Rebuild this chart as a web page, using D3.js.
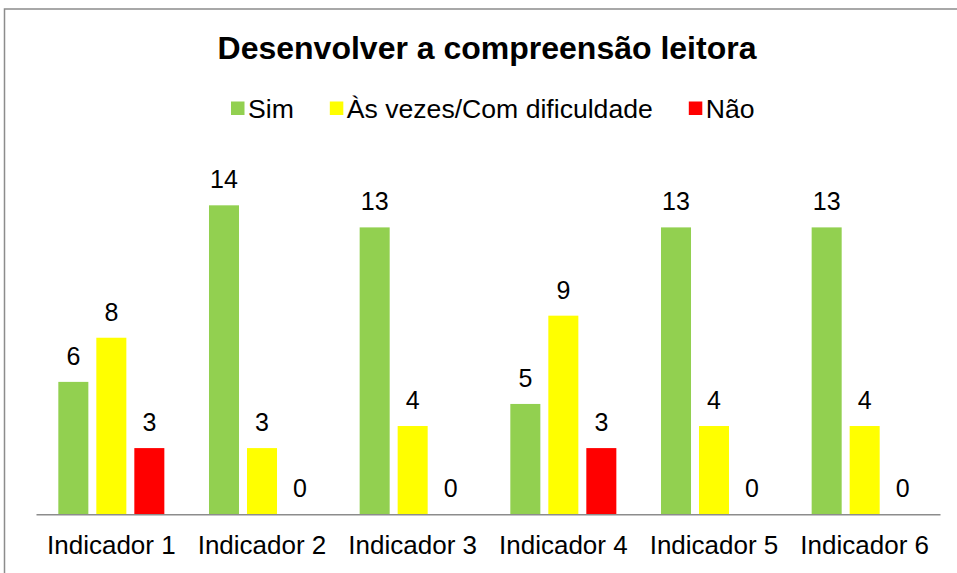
<!DOCTYPE html>
<html>
<head>
<meta charset="utf-8">
<script src="https://cdn.jsdelivr.net/npm/d3@7"></script>
<style>
body { margin: 0; background: #fff; }
svg { display: block; font-family: "Liberation Sans", Arial, sans-serif; }
.title { font-weight: bold; font-size: 32px; }
.legend-tag { font-size: 26.6px; }
.value-tag { font-size: 25px; }
.axis-x text { font-size: 26px; fill: #000; font-family: "Liberation Sans", Arial, sans-serif; }
.axis-x path { stroke: #8c8c8c; stroke-width: 1.5; }
.chart-border { fill: none; stroke: #8c8c8c; stroke-width: 1.5; }
</style>
</head>
<body>
<div id="chart"></div>
<script>
// data
let categories = ["Indicador 1", "Indicador 2", "Indicador 3", "Indicador 4", "Indicador 5", "Indicador 6"];
let series = ["Sim", "Às vezes/Com dificuldade", "Não"];
let colors = ["#92D050", "#FFFF00", "#FF0000"];
let sim = [6, 14, 13, 5, 13, 13];
let asVezes = [8, 3, 4, 9, 4, 4];
let nao = [3, 0, 0, 3, 0, 0];
let title = "Desenvolver a compreensão leitora";

function renderChart(){
	let total_width = 957;
	let total_height = 573;
	let plot_left = 36, plot_right = 940;
	let base_y = 514.3;
	let y_max = 16;

	let values = [sim, asVezes, nao];
	let rows = categories.map((c, i) => ({
		cat: c,
		vals: series.map((s, j) => ({ serie: s, color: colors[j], value: values[j][i] }))
	}));

	let svg = d3.select("#chart").append("svg")
		.attr("width", total_width)
		.attr("height", total_height);

	// chart area border (runs off right and bottom edges)
	svg.append("rect")
		.attr("class", "chart-border")
		.attr("x", 4.5)
		.attr("y", 9)
		.attr("width", 980)
		.attr("height", 600);

	svg.append("text")
		.attr("class", "title")
		.attr("x", 487)
		.attr("y", 59)
		.attr("text-anchor", "middle")
		.text(title);

	let x0 = d3.scaleBand()
		.domain(categories)
		.range([plot_left, plot_right]);
	let x1 = d3.scaleBand()
		.domain(series)
		.range([0, x0.bandwidth()])
		.paddingInner(0.21)
		.paddingOuter(0.5875);
	let y = d3.scaleLinear()
		.domain([0, y_max])
		.range([base_y, base_y - y_max * 22.07]);

	let groups = svg.append("g").selectAll("g")
		.data(rows).enter().append("g")
		.attr("transform", d => "translate(" + x0(d.cat) + ",0)");

	groups.selectAll("rect").data(d => d.vals).enter().append("rect")
		.attr("x", d => x1(d.serie))
		.attr("width", x1.bandwidth())
		.attr("y", d => y(d.value))
		.attr("height", d => y(0) - y(d.value))
		.attr("fill", d => d.color);

	groups.selectAll("text").data(d => d.vals).enter().append("text")
		.attr("class", "value-tag")
		.attr("x", d => x1(d.serie) + x1.bandwidth() / 2)
		.attr("y", d => y(d.value) - 17)
		.attr("text-anchor", "middle")
		.text(d => d.value);

	svg.append("g")
		.attr("class", "axis-x")
		.attr("transform", "translate(0," + base_y + ")")
		.call(d3.axisBottom(x0).tickSize(0).tickSizeOuter(0).tickPadding(21.5));

	// legend
	let legend = svg.append("g").attr("class", "legend");
	let lx = 231;
	let ly = 108;
	series.forEach((s, i) => {
		legend.append("rect")
			.attr("x", lx)
			.attr("y", ly - 6.5)
			.attr("width", 13.5)
			.attr("height", 13.5)
			.attr("fill", colors[i]);
		let t = legend.append("text")
			.attr("class", "legend-tag")
			.attr("x", lx + 17)
			.attr("y", ly + 9.5)
			.text(s);
		lx += 17 + t.node().getComputedTextLength() + 36;
	});
}

renderChart();
</script>
</body>
</html>
